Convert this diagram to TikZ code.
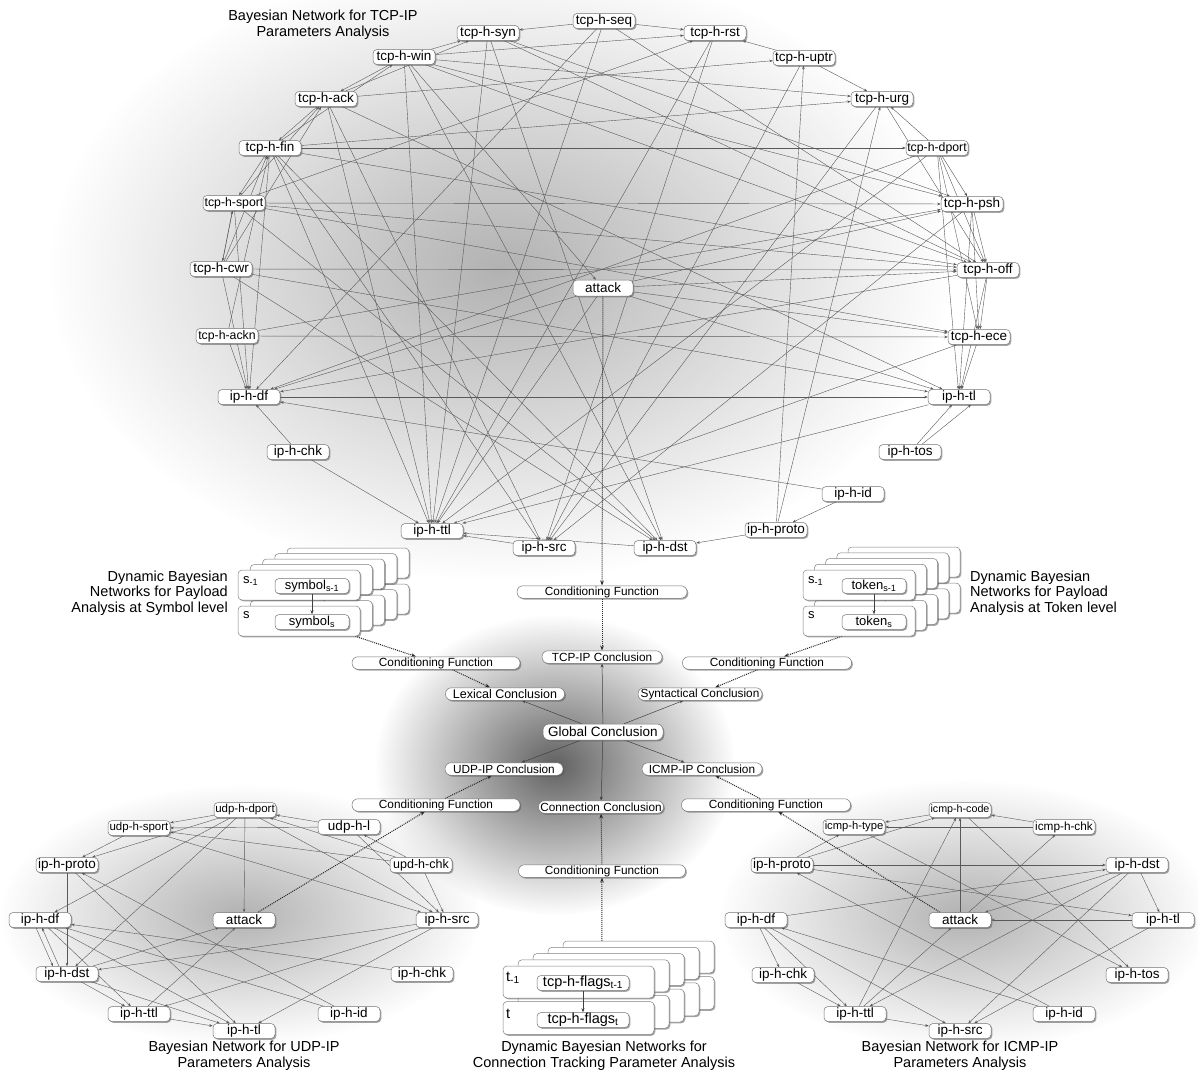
\documentclass[tikz,border=0pt]{standalone}
\usepackage{fontspec}
\setmainfont{Liberation Sans}
\usetikzlibrary{arrows.meta,shadows,fadings,calc}
\pgfdeclarelayer{shadelayer}
\pgfdeclarelayer{edgelayer}
\pgfsetlayers{shadelayer,edgelayer,main}
\tikzfading[name=softspot, inner color=transparent!0, outer color=transparent!100]
\newcommand{\fs}[1]{\fontsize{#1}{#1}\selectfont}
\tikzset{
  shd/.style={drop shadow={shadow xshift=1.3pt,shadow yshift=-1.3pt,fill=black!70,opacity=0.5}},
  bn/.style={draw=black!55, fill=white, rounded corners=4pt, minimum width=62pt,
     minimum height=15pt, inner sep=0pt, line width=0.5pt, font=\fs{13.5}, shd},
  bs/.style={bn, font=\fs{12.3}},
  mb/.style={draw=black!55, fill=white, rounded corners=6pt, minimum height=12.5pt,
     inner sep=0pt, line width=0.5pt, font=\fs{11.8}, shd},
  fr/.style={draw=black!50, fill=white, rounded corners=4pt, inner sep=0pt,
     line width=0.5pt, shd},
  lbl/.style={inner sep=0pt, font=\fs{13}, anchor=west},
  ttl/.style={inner sep=0pt, font=\fontsize{14.5}{16}\selectfont, align=center},
  ed/.style={draw=black!65, line width=0.4pt, -{Stealth[length=3.5pt,width=2.6pt]}},
  sa/.style={draw=black!75, line width=0.5pt, -{Stealth[length=4pt,width=3pt]}},
  dt/.style={draw=black!85, line width=1pt, densely dotted, -{Stealth[length=5pt,width=3.6pt]}},
}
\begin{document}
\begin{tikzpicture}[x=1pt,y=-1pt]
\useasboundingbox (0,0) rectangle (1198,1073);
\begin{pgfonlayer}{shadelayer}
  \fill[white] (0,0) rectangle (1198,1073);
  \fill[black!30, path fading=softspot] (500,270) ellipse [x radius=450pt, y radius=310pt];
  \fill[black!62, path fading=softspot] (555,765) ellipse [x radius=180pt, y radius=150pt];
  \fill[black!30, path fading=softspot] (240,915) ellipse [x radius=240pt, y radius=130pt];
  \fill[black!30, path fading=softspot] (965,915) ellipse [x radius=245pt, y radius=135pt];
\end{pgfonlayer}

% ---------- titles
\node[ttl] (ttcp) at (323,25) {Bayesian Network for TCP-IP\\Parameters Analysis};
\node[ttl, align=right, anchor=east, font=\fontsize{14.5}{15.5}\selectfont] (tsym) at (228,593) {Dynamic Bayesian\\Networks for Payload\\Analysis at Symbol level};
\node[ttl, align=left, anchor=west, font=\fontsize{14.5}{15.5}\selectfont] (ttok) at (970,593) {Dynamic Bayesian\\Networks for Payload\\Analysis at Token level};
\node[ttl] (tudp) at (244,1056) {Bayesian Network for UDP-IP\\Parameters Analysis};
\node[ttl] (tcon) at (604,1056) {Dynamic Bayesian Networks for\\Connection Tracking Parameter Analysis};
\node[ttl] (ticmp) at (960,1056) {Bayesian Network for ICMP-IP\\Parameters Analysis};

% ---------- TCP-IP network
\node[bn] (seq) at (604,21) {tcp-h-seq};
\node[bn] (syn) at (488,33) {tcp-h-syn};
\node[bn] (rst) at (715,33) {tcp-h-rst};
\node[bn] (win) at (404,57) {tcp-h-win};
\node[bn] (uptr) at (804,58) {tcp-h-uptr};
\node[bn] (ack) at (326,99) {tcp-h-ack};
\node[bn] (urg) at (882,99) {tcp-h-urg};
\node[bn] (fin) at (270,148) {tcp-h-fin};
\node[bs] (dport) at (937,148) {tcp-h-dport};
\node[bs] (sport) at (234,203) {tcp-h-sport};
\node[bn] (psh) at (972,204) {tcp-h-psh};
\node[bn] (cwr) at (221,269) {tcp-h-cwr};
\node[bn] (off) at (988,270) {tcp-h-off};
\node[bs] (ackn) at (227,336) {tcp-h-ackn};
\node[bn] (ece) at (979,337) {tcp-h-ece};
\node[bn] (df) at (249,397) {ip-h-df};
\node[bn] (tl) at (959,397) {ip-h-tl};
\node[bn] (chk) at (298,452) {ip-h-chk};
\node[bn] (tos) at (910,452) {ip-h-tos};
\node[bn] (id) at (853,494) {ip-h-id};
\node[bn] (ttl) at (432,531) {ip-h-ttl};
\node[bn] (proto) at (776,530) {ip-h-proto};
\node[bn] (src) at (544,548) {ip-h-src};
\node[bn] (dst) at (665,548) {ip-h-dst};
\node[bn, minimum width=60pt, minimum height=16pt] (att) at (603,288) {attack};

\begin{pgfonlayer}{edgelayer}
\foreach \a/\b in {seq/syn, seq/rst, seq/off, seq/ttl, seq/df,
  win/syn, win/rst, win/ack, win/ttl, win/dst, win/off, win/psh, win/att, win/urg,
  ack/fin, ack/syn, ack/ttl, ack/src, ack/uptr, ack/tl,
  fin/win, fin/sport, fin/df, fin/ttl, fin/src, fin/dst, fin/dport, fin/off, fin/urg,
  sport/cwr, sport/df, sport/off, sport/psh, sport/rst, sport/ece, sport/dst, sport/ack,
  cwr/sport, cwr/off, cwr/df, cwr/dst, cwr/ack, cwr/fin, cwr/tl,
  ackn/ece, ackn/df, ackn/psh, ackn/fin,
  df/tl, chk/df, chk/ttl, tos/tl, id/df, id/proto,
  proto/dst, proto/uptr, proto/urg, src/ttl, dst/ttl,
  att/psh, att/off, att/df, att/ece, att/tl, att/ttl,
  uptr/rst, uptr/urg, uptr/src,
  dport/urg, dport/psh, dport/off, dport/ece, dport/tl, dport/df, dport/ttl,
  psh/off, psh/ece, psh/tl, psh/src,
  off/ece, off/tl, off/df, ece/tl, ece/ttl,
  urg/off, urg/src, rst/src, rst/ttl,
  syn/dst, syn/ttl, syn/off, syn/psh, tl/ttl}
  \draw[ed] (\a) -- (\b);
\draw[ed] ($(tos.north)+(12,0)$) -- ($(tl.south)+(12,0)$);
\end{pgfonlayer}

% ---------- payload stacks (back layers: frames only)
\foreach \k in {4,3,2,1}{
 \begin{scope}[shift={(12.25*\k,-5.5*\k)}]
  \node[fr,minimum width=122pt,minimum height=30pt] (symT\k) at (299,585) {};
  \node[fr,minimum width=122pt,minimum height=30pt] (symB\k) at (299,621) {};
  \coordinate (symP\k) at (312,599);
  \coordinate (symQ\k) at (312,607);
  \draw[sa] (symP\k) -- (symQ\k);
 \end{scope}
}
\node[fr,minimum width=122pt,minimum height=30pt] (symT0) at (299,585) {};
\node[fr,minimum width=122pt,minimum height=30pt] (symB0) at (299,621) {};
\node[lbl] (symLa) at (243,581) {s\textsubscript{-1}};
\node[lbl] (symLb) at (243,615) {s};
\node[bn,minimum width=74pt,font=\fs{13}] (symA) at (312,586) {symbol\textsubscript{s-1}};
\node[bn,minimum width=74pt,font=\fs{13}] (symZ) at (312,622) {symbol\textsubscript{s}};
\draw[sa] (symA) -- (symZ);

\foreach \k in {4,3,2,1}{
 \begin{scope}[shift={(11.25*\k,-5.75*\k)}]
  \node[fr,minimum width=112pt,minimum height=30pt] (tokT\k) at (859,585) {};
  \node[fr,minimum width=112pt,minimum height=30pt] (tokB\k) at (859,621) {};
  \coordinate (tokP\k) at (874,599);
  \coordinate (tokQ\k) at (874,607);
  \draw[sa] (tokP\k) -- (tokQ\k);
 \end{scope}
}
\node[fr,minimum width=112pt,minimum height=30pt] (tokT0) at (859,585) {};
\node[fr,minimum width=112pt,minimum height=30pt] (tokB0) at (859,621) {};
\node[lbl] (tokLa) at (808,581) {s\textsubscript{-1}};
\node[lbl] (tokLb) at (808,615) {s};
\node[bn,minimum width=64pt,font=\fs{13}] (tokA) at (874,586) {token\textsubscript{s-1}};
\node[bn,minimum width=64pt,font=\fs{13}] (tokZ) at (874,622) {token\textsubscript{s}};
\draw[sa] (tokA) -- (tokZ);

\foreach \k in {4,3,2,1}{
 \begin{scope}[shift={(15*\k,-6.25*\k)}]
  \node[fr,minimum width=151pt,minimum height=32pt] (flT\k) at (578.5,982) {};
  \node[fr,minimum width=151pt,minimum height=33pt] (flB\k) at (578.5,1018) {};
  \coordinate (flP\k) at (583,997);
  \coordinate (flQ\k) at (583,1003);
  \draw[sa] (flP\k) -- (flQ\k);
 \end{scope}
}
\node[fr,minimum width=151pt,minimum height=32pt] (flT0) at (578.5,982) {};
\node[fr,minimum width=151pt,minimum height=33pt] (flB0) at (578.5,1018) {};
\node[lbl,font=\fs{14.5}] (flLa) at (506,978) {t\textsubscript{-1}};
\node[lbl,font=\fs{14.5}] (flLb) at (506,1014) {t};
\node[bn,minimum width=92pt,font=\fs{14.5}] (flA) at (583,983) {tcp-h-flags\textsubscript{t-1}};
\node[bn,minimum width=92pt,font=\fs{14.5}] (flZ) at (583,1020) {tcp-h-flags\textsubscript{t}};
\draw[sa] (flA) -- (flZ);

% ---------- middle
\node[mb, minimum width=170pt] (cfT) at (602,592) {Conditioning Function};
\node[mb, minimum width=120pt] (tcpc) at (602,657) {TCP-IP Conclusion};
\node[mb, minimum width=168pt] (cfL) at (436,663) {Conditioning Function};
\node[mb, minimum width=169pt] (cfR) at (767,663) {Conditioning Function};
\node[mb, minimum width=119pt, font=\fs{12.5}] (lex) at (505,694) {Lexical Conclusion};
\node[mb, minimum width=124pt] (syc) at (700,694) {Syntactical Conclusion};
\node[mb, minimum width=120pt, minimum height=16pt, font=\fs{13.5}] (glob) at (603,732) {Global Conclusion};
\node[mb, minimum width=118pt] (udpc) at (504,769) {UDP-IP Conclusion};
\node[mb, minimum width=120pt] (icmpc) at (702,769) {ICMP-IP Conclusion};
\node[mb, minimum width=168pt] (cfU) at (436,805) {Conditioning Function};
\node[mb, minimum width=125pt] (conn) at (601,807) {Connection Conclusion};
\node[mb, minimum width=169pt] (cfI) at (766,805) {Conditioning Function};
\node[mb, minimum width=167pt] (cfC) at (602,871) {Conditioning Function};

% ---------- UDP network
\node[bn, font=\fs{11.5}] (udport) at (245,810) {udp-h-dport};
\node[bn, font=\fs{11.5}] (usport) at (139,828) {udp-h-sport};
\node[bn] (ul) at (349,827) {udp-h-l};
\node[bn] (uproto) at (67,865) {ip-h-proto};
\node[bn, font=\fs{12.5}] (uchkb) at (421,865) {upd-h-chk};
\node[bn] (udf) at (40,920) {ip-h-df};
\node[bn] (uatt) at (244,920) {attack};
\node[bn] (usrc) at (447,920) {ip-h-src};
\node[bn] (udst) at (67,974) {ip-h-dst};
\node[bn] (uchk) at (422,974) {ip-h-chk};
\node[bn] (uttl) at (139,1014) {ip-h-ttl};
\node[bn] (uid) at (349,1014) {ip-h-id};
\node[bn] (utl) at (244,1031) {ip-h-tl};

% ---------- ICMP network
\node[bn, font=\fs{10.7}] (icode) at (960,810) {icmp-h-code};
\node[bn, font=\fs{11.2}] (itype) at (854,827) {icmp-h-type};
\node[bn, font=\fs{11.8}] (ichkc) at (1064,827) {icmp-h-chk};
\node[bn] (iproto) at (782,865) {ip-h-proto};
\node[bn] (idst) at (1137,865) {ip-h-dst};
\node[bn] (idf) at (756,920) {ip-h-df};
\node[bn] (iatt) at (960,920) {attack};
\node[bn] (itl) at (1163,920) {ip-h-tl};
\node[bn] (ichk) at (783,975) {ip-h-chk};
\node[bn] (itos) at (1137,975) {ip-h-tos};
\node[bn] (ittl) at (855,1014) {ip-h-ttl};
\node[bn] (iid) at (1064,1014) {ip-h-id};
\node[bn] (isrc) at (960,1031) {ip-h-src};

\begin{pgfonlayer}{edgelayer}
\foreach \a/\b in {udport/usport, ul/udport, ul/usport, uchkb/udport, uchkb/usport, uchkb/ul,
  usport/uproto, udport/uproto, udport/udf, udport/udst, udport/uatt, udport/usrc,
  usport/usrc, ul/usrc, uchkb/usrc, uproto/udst, uproto/utl, uid/uproto,
  udf/uttl, udf/utl, uchk/udf, uid/udf, udst/uatt, uttl/uatt,
  usrc/udst, usrc/uttl, usrc/utl, udst/uttl, udst/utl, uttl/utl}
  \draw[ed] (\a) -- (\b);
\draw[ed] ($(udf.south)+(-4,0)$) -- ($(udst.north)+(-14,0)$);
\draw[ed] ($(udst.north)+(-8,0)$) -- ($(udf.south)+(2,0)$);
\foreach \a/\b in {icode/itype, ichkc/itype, ichkc/icode, iproto/itype, iproto/icode,
  itype/itos, icode/itos, iatt/icode, ittl/icode, idst/iatt, itl/iatt, iatt/ichkc,
  iproto/idst, iproto/itl, idf/idst, idst/itl, idst/ittl, idst/isrc, itl/isrc,
  idf/ichk, idf/ittl, idf/isrc, ichk/ittl, ittl/isrc, iid/idf, iid/iproto, ittl/iatt}
  \draw[ed] (\a) -- (\b);

% conclusions
\foreach \b in {tcpc, lex, syc, udpc, icmpc, conn}
  \draw[sa] (glob) -- (\b);

% dotted conditioning
\draw[dt] (att) -- (cfT);
\draw[dt] (cfT) -- (tcpc);
\draw[dt] ($(symB0.south east)+(-5,0)$) -- ($(cfL.north)+(-20,0)$);
\draw[dt] ($(cfL.south)+(16,0)$) -- ($(lex.north)+(-15,0)$);
\draw[dt] ($(tokB0.south)+(-17,0)$) -- ($(cfR.north)+(17,0)$);
\draw[dt] ($(cfR.south)+(-9,0)$) -- ($(syc.north)+(15,0)$);
\draw[dt] ($(uatt.north)+(14,0)$) -- ($(cfU.south)+(-11,0)$);
\draw[dt] ($(cfU.north)+(9,0)$) -- ($(udpc.south)+(-12,0)$);
\draw[dt] ($(iatt.north)+(-20,0)$) -- ($(cfI.south)+(12,0)$);
\draw[dt] ($(cfI.north)+(-6,0)$) -- ($(icmpc.south)+(13,0)$);
\draw[dt] ($(flT4.north west)+(39,0)$) -- (cfC);
\draw[dt] (cfC) -- (conn);
\end{pgfonlayer}
\end{tikzpicture}
\end{document}
